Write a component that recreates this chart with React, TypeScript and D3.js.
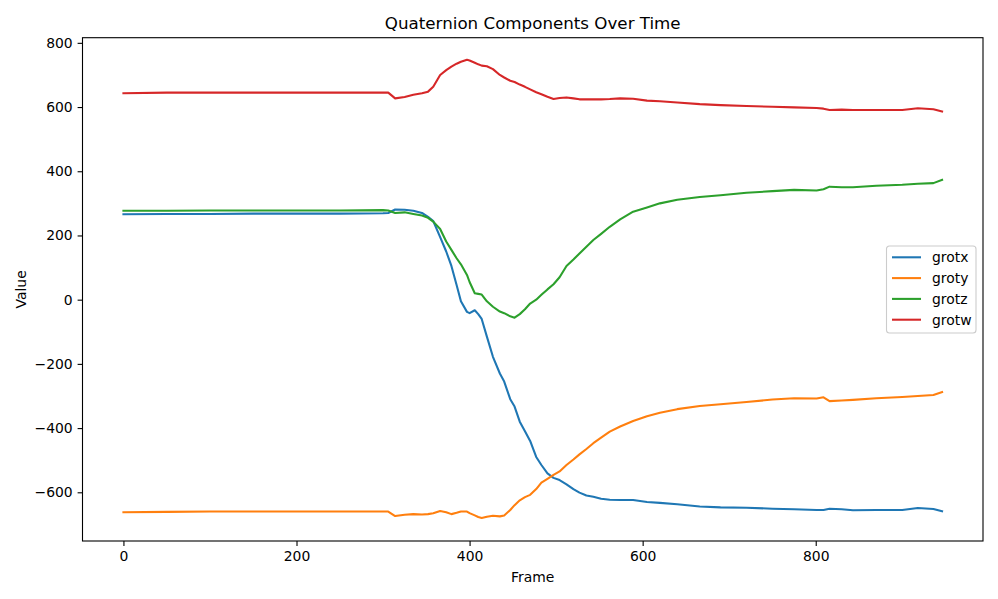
import { useEffect, useRef } from 'react';
import * as d3 from 'd3';

const frames = [
  0, 50, 100, 150, 200, 250, 300, 306, 314, 325, 335, 345, 352, 358, 366, 373, 379, 385, 390, 397,
  400, 406, 410, 414, 420, 427, 435, 440, 447, 452, 458, 464, 470, 477, 483, 490, 497, 504, 512, 520,
  527, 535, 543, 552, 562, 574, 589, 605, 620, 640, 666, 690, 720, 750, 775, 801, 809, 816, 830, 843,
  870, 900, 918, 936, 946,
];

const grotx = [
  266, 267, 267, 268, 268, 268, 269, 270, 281, 280, 277, 270, 258, 245, 195, 150, 105, 46, -5, -38,
  -42, -33, -45, -60, -115, -178, -230, -255, -310, -333, -380, -410, -440, -490, -515, -541, -555, -562, -575, -590,
  -601, -610, -614, -620, -623, -624, -624, -630, -633, -637, -644, -647, -648, -651, -653, -655, -655, -651, -653, -656,
  -655, -655, -649, -652, -659,
];

const groty = [
  -662, -661, -660, -660, -660, -660, -660, -660, -674, -670, -668, -669, -668, -665, -658, -662, -668, -664, -660, -660,
  -665, -672, -677, -680, -676, -673, -675, -672, -655, -640, -625, -615, -608, -590, -570, -558, -546, -535, -515, -498,
  -482, -465, -447, -430, -411, -395, -378, -363, -352, -341, -331, -326, -319, -311, -307, -308, -304, -316, -314, -312,
  -307, -303, -300, -297, -288,
];

const grotz = [
  277, 277, 278, 278, 278, 278, 279, 278, 270, 272, 267, 262, 255, 243, 220, 181, 155, 129, 110, 77,
  55, 20, 18, 16, -5, -22, -37, -42, -52, -56, -45, -30, -12, 0, 15, 32, 48, 70, 105, 125,
  144, 165, 186, 205, 227, 250, 274, 287, 300, 311, 320, 325, 333, 338, 342, 340, 344, 352, 350, 350,
  355, 358, 361, 363, 373,
];

const grotw = [
  643, 645, 645, 645, 645, 645, 645, 645, 627, 631, 638, 643, 648, 663, 700, 715, 726, 735, 741, 747,
  745, 738, 733, 729, 727, 718, 700, 692, 682, 678, 670, 663, 655, 646, 640, 632, 625, 628, 630, 627,
  624, 624, 624, 624, 625, 627, 626, 620, 618, 614, 609, 606, 603, 601, 599, 597, 595, 591, 592, 591,
  591, 591, 596, 593, 586,
];

const seriesNames = ['grotx', 'groty', 'grotz', 'grotw'];
const seriesValues = [grotx, groty, grotz, grotw];
const colors = ['#1f77b4', '#ff7f0e', '#2ca02c', '#d62728'];

const xTicks = [0, 200, 400, 600, 800];
const yTicks = [-600, -400, -200, 0, 200, 400, 600, 800];

export default function App() {
  const svgRef = useRef<SVGSVGElement>(null);

  useEffect(() => {
    if (!svgRef.current) return;
    const svg = d3.select(svgRef.current);
    svg.selectAll('*').remove();

    const font = 'DejaVu Sans, sans-serif';
    const margin = { top: 37.7, right: 15, bottom: 58, left: 82.5 };
    const width = 998;
    const height = 599;
    const innerWidth = width - margin.left - margin.right;
    const innerHeight = height - margin.top - margin.bottom;

    const x = d3.scaleLinear().domain([-47.3, 993.3]).range([0, innerWidth]);
    const y = d3.scaleLinear().domain([-751.7, 816]).range([innerHeight, 0]);

    const g = svg.append('g').attr('transform', `translate(${margin.left},${margin.top})`);

    svg.append('defs').append('clipPath')
      .attr('id', 'clip')
      .append('rect')
      .attr('width', innerWidth)
      .attr('height', innerHeight);

    const line = d3.line<number>()
      .x((_, i) => x(frames[i]))
      .y(d => y(d));

    seriesValues.forEach((vals, i) => {
      g.append('path')
        .datum(vals)
        .attr('clip-path', 'url(#clip)')
        .attr('fill', 'none')
        .attr('stroke', colors[i])
        .attr('stroke-width', 2.08)
        .attr('stroke-linejoin', 'round')
        .attr('stroke-linecap', 'square')
        .attr('d', line);
    });

    // axes
    const fmt = (d: d3.NumberValue) => {
      const v = +d;
      return v < 0 ? `\u2212${Math.abs(v)}` : `${v}`;
    };

    const xAxis = g.append('g')
      .attr('transform', `translate(0,${innerHeight})`)
      .call(d3.axisBottom(x).tickValues(xTicks).tickFormat(fmt).tickSize(4.9).tickPadding(4.9));
    const yAxis = g.append('g')
      .call(d3.axisLeft(y).tickValues(yTicks).tickFormat(fmt).tickSize(4.9).tickPadding(4.9));

    [xAxis, yAxis].forEach(ax => {
      ax.select('.domain').remove();
      ax.selectAll('line').attr('stroke', '#000').attr('stroke-width', 1.1);
      ax.selectAll('text')
        .attr('fill', '#000')
        .style('font-family', font)
        .style('font-size', '13.9px');
    });

    g.append('rect')
      .attr('width', innerWidth)
      .attr('height', innerHeight)
      .attr('fill', 'none')
      .attr('stroke', '#000')
      .attr('stroke-width', 1.1);

    // title + labels
    svg.append('text')
      .attr('x', margin.left + innerWidth / 2)
      .attr('y', 29)
      .attr('text-anchor', 'middle')
      .style('font-family', font)
      .style('font-size', '16.7px')
      .text('Quaternion Components Over Time');

    svg.append('text')
      .attr('x', margin.left + innerWidth / 2)
      .attr('y', 582)
      .attr('text-anchor', 'middle')
      .style('font-family', font)
      .style('font-size', '13.9px')
      .text('Frame');

    svg.append('text')
      .attr('transform', `translate(26,${margin.top + innerHeight / 2}) rotate(-90)`)
      .attr('text-anchor', 'middle')
      .style('font-family', font)
      .style('font-size', '13.9px')
      .text('Value');

    // legend
    const legend = svg.append('g').attr('transform', 'translate(886.5,246)');
    legend.append('rect')
      .attr('width', 89.5)
      .attr('height', 87)
      .attr('rx', 3)
      .attr('fill', '#fff')
      .attr('fill-opacity', 0.8)
      .attr('stroke', '#ccc')
      .attr('stroke-width', 1.1);

    seriesNames.forEach((name, i) => {
      const row = legend.append('g').attr('transform', `translate(0,${11.3 + i * 20.8})`);
      row.append('line')
        .attr('x1', 5.5)
        .attr('x2', 34.5)
        .attr('stroke', colors[i])
        .attr('stroke-width', 2.08);
      row.append('text')
        .attr('x', 45.5)
        .attr('y', 5)
        .style('font-family', font)
        .style('font-size', '13.9px')
        .text(name);
    });
  }, []);

  return (
    <svg
      ref={svgRef}
      width={998}
      height={599}
      style={{ position: 'absolute', left: 0, top: 0, background: '#fff' }}
    />
  );
}
